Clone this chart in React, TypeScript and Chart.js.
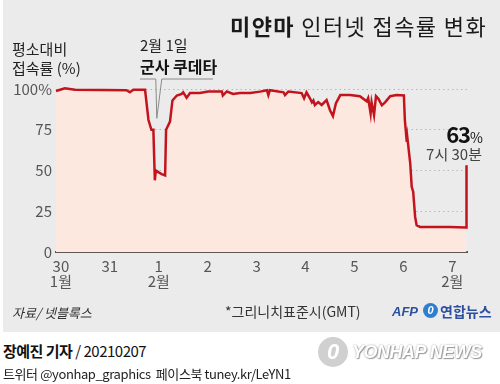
import React, { useEffect, useRef } from "react";
import { Chart, registerables } from "chart.js";

Chart.register(...registerables);

// Days counted from 30 Jan 00:00 (GMT)
const dayOffsets = [
  -0.1, 0.08, 0.29, 1.34, 1.41, 1.48, 1.72, 1.79, 1.85, 1.89, 1.92, 1.94, 1.99, 2.06, 2.13, 2.15,
  2.23, 2.28, 2.37, 2.47, 2.5, 2.57, 2.64, 2.84, 3.01, 3.29, 3.31, 3.39, 3.52, 3.66, 3.87, 4.07,
  4.21, 4.24, 4.27, 4.55, 4.58, 4.65, 4.92, 4.97, 5.02, 5.09, 5.13, 5.16, 5.19, 5.26, 5.33, 5.43,
  5.5, 5.56, 5.62, 5.71, 5.91, 6.11, 6.25, 6.28, 6.33, 6.35, 6.4, 6.44, 6.49, 6.56, 6.63, 6.73,
  6.86, 7.01, 7.03, 7.06, 7.07, 7.08, 7.14, 7.17, 7.2, 7.24, 7.27, 7.34, 7.95, 8.28, 8.29,
];
const connectPct = [
  98.8, 100.5, 99.5, 99.3, 98, 99.5, 99.5, 81, 75, 75, 44, 50, 49, 47.8, 47, 75,
  80, 93, 96, 97, 98, 94.6, 97.5, 97.5, 98.5, 98.5, 96, 98.5, 97, 97.5, 97.5, 98.4,
  99.3, 96.3, 99.3, 98, 96.3, 98.5, 97.5, 94.3, 98, 94.3, 91.8, 93, 90.2, 92, 90.2, 93.2,
  87, 83.4, 91.2, 96.3, 96.3, 95.6, 92.5, 94.5, 85, 91.8, 84, 95.6, 94, 90, 92, 95.6,
  96.3, 96, 81, 70.7, 67.6, 70.5, 54.3, 40, 37, 21.5, 16.4, 15.4, 15.4, 15, 53.3,
];
const dayTicks = [0, 1, 2, 3, 4, 5, 6, 7, 8];
const dayLabels = [["30", "1월"], "31", ["1", "2월"], "2", "3", "4", "5", "6", ["7", "2월"]];
const yTicks = [0, 25, 50, 75, 100];
const coupDay = 1.96;
const coupPct = 82;

const FONT = "'Noto Sans CJK KR', 'Noto Sans', sans-serif";

const pointerPlugin = {
  id: "coupPointer",
  afterDatasetsDraw(chart: any) {
    const { ctx, scales } = chart;
    const tipX = scales.x.getPixelForValue(coupDay);
    const tipY = scales.y.getPixelForValue(coupPct);
    const baseY = 79;
    ctx.save();
    ctx.strokeStyle = "#8a8a8a";
    ctx.lineWidth = 1;
    ctx.beginPath();
    ctx.moveTo(140, baseY);
    ctx.lineTo(tipX - 1, baseY);
    ctx.lineTo(tipX, tipY);
    ctx.lineTo(tipX + 5, baseY);
    ctx.lineTo(213, baseY);
    ctx.stroke();
    ctx.restore();
  },
};

function ChartCanvas() {
  const ref = useRef<HTMLCanvasElement | null>(null);
  useEffect(() => {
    if (!ref.current) return;
    const chart = new Chart(ref.current, {
      type: "line",
      data: {
        datasets: [
          {
            data: dayOffsets.map((d, i) => ({ x: d, y: connectPct[i] })),
            borderColor: "#c3141e",
            borderWidth: 2.5,
            backgroundColor: "#fde8e0",
            fill: "origin",
            pointRadius: 0,
            tension: 0,
            clip: false as any,
          },
        ],
      },
      options: {
        animation: false,
        responsive: false,
        events: [],
        layout: { padding: { top: 82.5, right: 33, left: 0, bottom: 0 } },
        plugins: { legend: { display: false }, tooltip: { enabled: false } },
        scales: {
          x: {
            type: "linear",
            min: -0.1,
            max: 8.3,
            afterBuildTicks: (s: any) => {
              s.ticks = dayTicks.map((v) => ({ value: v }));
            },
            afterFit: (s: any) => {
              s.height = 80;
            },
            grid: { display: false, drawTicks: false },
            border: { display: true, color: "#5e5650", width: 2 },
            ticks: {
              autoSkip: false,
              maxRotation: 0,
              padding: 6,
              color: "#555",
              font: { family: FONT, size: 15, lineHeight: 1.05 },
              callback: (v: any) => {
                const i = dayTicks.indexOf(Number(v));
                return i >= 0 ? (dayLabels[i] as any) : "";
              },
            },
          },
          y: {
            min: 0,
            max: 104,
            afterBuildTicks: (s: any) => {
              s.ticks = yTicks.map((v) => ({ value: v }));
            },
            afterFit: (s: any) => {
              s.width = 56;
            },
            grid: {
              color: (c: any) => (c.tick && c.tick.value === 0 ? "rgba(0,0,0,0)" : "#b8b8b8"),
              lineWidth: 1,
              drawTicks: false,
            },
            border: { display: false, dash: [1.5, 3] },
            ticks: {
              padding: 4,
              color: "#555",
              font: { family: FONT, size: 15 },
              callback: (v: any) => (Number(v) === 100 ? "100%" : String(v)),
            },
          },
        },
      } as any,
      plugins: [pointerPlugin],
    });
    return () => chart.destroy();
  }, []);
  return <canvas ref={ref} width={500} height={332} style={{ position: "absolute", left: 0, top: 0, width: 500, height: 332 }} />;
}

function T(props: { x: number; y: number; size: number; children: any; style?: any; right?: boolean }) {
  const { x, y, size, children, style, right } = props;
  const s: any = {
    position: "absolute",
    top: y - size / 2,
    lineHeight: `${size}px`,
    fontSize: size,
    fontFamily: FONT,
    whiteSpace: "nowrap",
    color: "#222",
    ...style,
  };
  if (right) s.right = 500 - x;
  else s.left = x;
  return <div style={s}>{children}</div>;
}

export default function App() {
  return (
    <div style={{ position: "fixed", left: 0, top: 0, width: 500, height: 384, background: "#fff", overflow: "hidden" }}>
      <div style={{ position: "absolute", left: 3, top: 0, width: 497, height: 332, background: "#ebebeb" }} />
      <ChartCanvas />
      <T x={230} y={25} size={22} style={{ letterSpacing: 1.4, color: "#1a1a1a" }}>
        <b>미얀마</b> 인터넷 접속률 변화
      </T>
      <T x={12} y={48} size={15} style={{ color: "#222" }}>평소대비</T>
      <T x={12} y={67} size={15} style={{ color: "#222" }}>접속률 (%)</T>
      <T x={140} y={44} size={15} style={{ color: "#222" }}>2월 1일</T>
      <T x={140} y={66} size={16} style={{ color: "#111", fontWeight: 700 }}>군사 쿠데타</T>
      <T x={482} y={133} size={22} right style={{ color: "#111", fontWeight: 700, letterSpacing: -1 }}>
        63<span style={{ fontSize: 14, fontWeight: 400 }}>%</span>
      </T>
      <T x={482} y={153} size={15} right style={{ color: "#444" }}>7시 30분</T>
      <T x={12} y={312} size={13} style={{ color: "#333", fontStyle: "italic" }}>자료/ 넷블록스</T>
      <T x={225} y={311} size={14} style={{ color: "#333" }}>*그리니치표준시(GMT)</T>
      <T x={392} y={311} size={13} style={{ color: "#2d4fa0", fontStyle: "italic", fontWeight: 700, fontFamily: "'Liberation Sans', sans-serif" }}>AFP</T>
      <div style={{ position: "absolute", left: 423, top: 303, width: 15, height: 15, borderRadius: 8, background: "#2f7fd0", color: "#fff", fontSize: 11, fontStyle: "italic", fontWeight: 700, lineHeight: "15px", textAlign: "center", fontFamily: "'Liberation Sans', sans-serif" }}>0</div>
      <T x={440} y={311} size={14} style={{ color: "#2d4fa0", fontWeight: 700 }}>연합뉴스</T>
      <T x={3} y={350} size={15} style={{ color: "#111", letterSpacing: -0.5 }}>
        <b>장예진 기자</b> / 20210207
      </T>
      <T x={3} y={373} size={13} style={{ color: "#222", letterSpacing: -0.4 }}>트위터 @yonhap_graphics&nbsp; 페이스북 tuney.kr/LeYN1</T>
      <div style={{ position: "absolute", left: 318, top: 337, width: 30, height: 30, borderRadius: 15, background: "#d0d0d0", color: "#fff", fontSize: 22, fontStyle: "italic", fontWeight: 700, lineHeight: "30px", textAlign: "center", fontFamily: "'Liberation Sans', sans-serif" }}>0</div>
      <T x={352} y={352} size={18} style={{ color: "#fff", fontWeight: 700, fontStyle: "italic", fontFamily: "'Liberation Sans', sans-serif", letterSpacing: -0.5, textShadow: "0 0 2px #999, 1px 1px 1px #999" }}>YONHAP NEWS</T>
    </div>
  );
}
